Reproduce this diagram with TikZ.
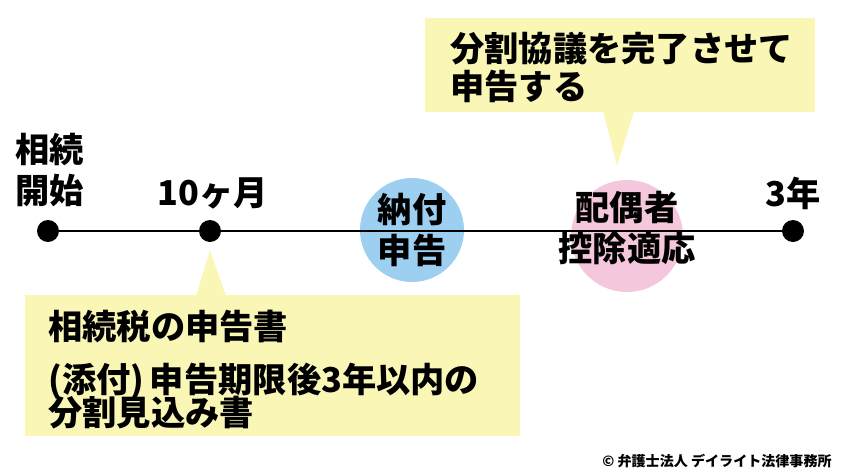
\documentclass[tikz,border=0pt]{standalone}
\usepackage{fontspec}
\setmainfont{Noto Sans CJK JP}
\usetikzlibrary{positioning}
\definecolor{notebg}{HTML}{FAF6B6}
\definecolor{payblue}{HTML}{9DCFF0}
\definecolor{spink}{HTML}{F5C7DC}
\tikzset{
  dot/.style={circle,fill=black,inner sep=0pt,minimum size=22\unitpx},
  lab/.style={font=\fontsize{19.5}{23}\selectfont\bfseries,align=center,inner sep=0pt},
  notetxt/.style={font=\fontsize{19.5}{23}\selectfont\bfseries,anchor=west,inner sep=0pt},
}
\newlength{\unitpx}\setlength{\unitpx}{0.02cm}
\begin{document}
\begin{tikzpicture}[x=0.02cm,y=-0.02cm]
  \useasboundingbox (0,0) rectangle (850,474);
  % callouts
  \fill[notebg] (425,18) rectangle (815,112);
  \fill[notebg] (603,111) -- (617,166) -- (634,111) -- cycle;
  \fill[notebg] (25,295) rectangle (520,436);
  \fill[notebg] (196,296) -- (210,250) -- (226,296) -- cycle;
  % circles
  \fill[payblue] (412,230) circle (52);
  \fill[spink] (627,236) circle (56);
  % timeline
  \node[dot] (start) at (48,231) {};
  \node[dot] (tenm) at (210,231) {};
  \node[dot] (three) at (793,231) {};
  \draw[line width=1.2pt] (start) -- (tenm) -- (three);
  % labels
  \node[lab] (lstart) at (50,170) {相続\\開始};
  \node[lab] (ltenm) at (213,193) {10ヶ月};
  \node[lab] (lpay) at (412,230) {納付\\申告};
  \node[lab] (lsp) at (627,228) {配偶者\\控除適応};
  \node[lab] (lthree) at (793,193) {3年};
  \node[notetxt] (top1) at (450,49) {分割協議を完了させて};
  \node[notetxt] (top2) at (450,86) {申告する};
  \node[notetxt] (bot1) at (48,326) {相続税の申告書};
  \node[notetxt] (bot2) at (48,381) {(添付)\,申告期限後3年以内の};
  \node[notetxt] (bot3) at (48,413) {分割見込み書};
  \node[font=\fontsize{8}{9}\selectfont\bfseries,anchor=east,inner sep=0pt] (copy) at (832,461) {© 弁護士法人 デイライト法律事務所};
\end{tikzpicture}
\end{document}
